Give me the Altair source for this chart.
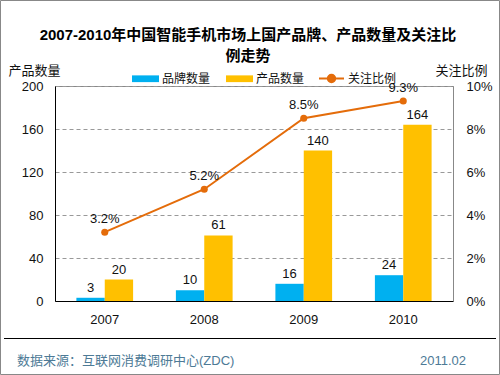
import altair as alt
import pandas as pd

# ---- data ----
years = ["2007", "2008", "2009", "2010"]
brand_counts = [3, 10, 16, 24]
product_counts = [20, 61, 140, 164]
attention = [0.032, 0.052, 0.085, 0.093]
series_names = ["品牌数量", "产品数量"]
line_name = "关注比例"
title_lines = ["2007-2010年中国智能手机市场上国产品牌、产品数量及关注比", "例走势"]
source_text = "数据来源：互联网消费调研中心(ZDC)"
date_text = "2011.02"

bar_colors = ["#00B0F0", "#FFC000"]
line_color = "#E46C0A"
FONT = "Liberation Sans, Arial, Noto Sans CJK SC"
FOOT = "#4D7A96"

bars_df = pd.DataFrame({
    "year": years * 2,
    "series": [series_names[0]] * 4 + [series_names[1]] * 4,
    "value": brand_counts + product_counts,
})
line_df = pd.DataFrame({"year": years, "ratio": attention, "name": [line_name] * 4})
one = pd.DataFrame({"k": [0]})

W, H = 398, 215
PL, PT = 55, 86

x_enc = alt.X(
    "year:N", sort=years,
    scale=alt.Scale(paddingInner=0.43, paddingOuter=0.215),
    axis=alt.Axis(title=None, labelAngle=0, ticks=False, domainColor="black",
                  labelFontSize=13, labelPadding=12, labelColor="#111"),
)
xoff = alt.XOffset("series:N", sort=series_names, scale=alt.Scale(paddingInner=0))
y_left = alt.Y(
    "value:Q", scale=alt.Scale(domain=[0, 200]),
    axis=alt.Axis(values=[0, 40, 80, 120, 160, 200], title="产品数量", titleAngle=0,
                  titleX=-21, titleY=-16, titleAlign="center", titleBaseline="middle",
                  titleFontWeight="normal", titleFontSize=13, titleColor="#111",
                  grid=True, gridDash=[4, 3], gridColor="#999", ticks=False,
                  labelPadding=12, domainColor="black", labelFontSize=13, labelColor="#111"),
)

bars = alt.Chart(bars_df).mark_bar().encode(
    x=x_enc,
    xOffset=xoff,
    y=y_left,
    color=alt.Color(
        "series:N", sort=series_names,
        scale=alt.Scale(domain=series_names, range=bar_colors),
        legend=alt.Legend(title=None, orient="none", legendX=77, legendY=-21,
                          direction="horizontal", symbolType="M-1,-0.25H1V0.25H-1Z",
                          symbolSize=729, symbolStrokeWidth=0, labelFontSize=12,
                          labelOffset=3, columnPadding=15, labelColor="#111", labelFont=FONT),
    ),
)
bar_text = alt.Chart(bars_df).mark_text(baseline="bottom", dy=-3, fontSize=13, color="#111").encode(
    x=x_enc, xOffset=xoff, y=alt.Y("value:Q"), text=alt.Text("value:Q"),
)
left_layer = alt.layer(bars, bar_text)

y_right = alt.Y(
    "ratio:Q", scale=alt.Scale(domain=[0, 0.1]),
    axis=alt.Axis(orient="right", format=".0%", values=[0, 0.02, 0.04, 0.06, 0.08, 0.1],
                  title="关注比例", titleAngle=0, titleX=8, titleY=-16, titleAlign="center",
                  titleBaseline="middle", titleFontWeight="normal", titleFontSize=13,
                  titleColor="#111", grid=False, ticks=False, labelPadding=13,
                  domainColor="#888", labelFontSize=13, labelColor="#111"),
)
line = alt.Chart(line_df).mark_line(strokeWidth=2).encode(
    x=x_enc, y=y_right,
    stroke=alt.Stroke(
        "name:N", scale=alt.Scale(domain=[line_name], range=[line_color]),
        legend=alt.Legend(title=None, orient="none", legendX=263, legendY=-21,
                          symbolType="M-1,0H1M0.3,0A0.3,0.3,0,1,1,-0.3,0A0.3,0.3,0,1,1,0.3,0Z",
                          symbolSize=625, symbolStrokeWidth=2, symbolFillColor=line_color,
                          labelFontSize=12, labelOffset=3, labelColor="#111", labelFont=FONT),
    ),
)
points = alt.Chart(line_df).mark_circle(size=50, color=line_color, opacity=1).encode(
    x=x_enc, y=alt.Y("ratio:Q"),
)
line_text = alt.Chart(line_df).mark_text(baseline="bottom", dy=-6, fontSize=13, color="#111").encode(
    x=x_enc, y=alt.Y("ratio:Q"), text=alt.Text("ratio:Q", format=".1%"),
)
right_layer = alt.layer(line, points, line_text)

# ---- annotations ----
t1 = alt.Chart(one).mark_text(fontSize=15, fontWeight="bold", color="#000", baseline="middle").encode(
    x=alt.value(193), y=alt.value(35 - PT), text=alt.value(title_lines[0]))
t2 = alt.Chart(one).mark_text(fontSize=15, fontWeight="bold", color="#000", baseline="middle").encode(
    x=alt.value(193), y=alt.value(56 - PT), text=alt.value(title_lines[1]))
foot_rule = alt.Chart(one).mark_rule(color="#000", strokeWidth=1).encode(
    x=alt.value(4 - PL), x2=alt.value(496 - PL), y=alt.value(338.5 - PT))
foot1 = alt.Chart(one).mark_text(fontSize=13, color=FOOT, align="left", baseline="middle").encode(
    x=alt.value(17 - PL), y=alt.value(361 - PT), text=alt.value(source_text))
foot2 = alt.Chart(one).mark_text(fontSize=13, color=FOOT, align="right", baseline="middle").encode(
    x=alt.value(466 - PL), y=alt.value(361 - PT), text=alt.value(date_text))
border = alt.Chart(one).mark_rect(fill=None, fillOpacity=0, stroke="#888", strokeWidth=1).encode(
    x=alt.value(0.5 - PL), x2=alt.value(499.5 - PL), y=alt.value(0.5 - PT), y2=alt.value(374.5 - PT))

chart = alt.layer(
    left_layer, right_layer, t1, t2, foot_rule, foot1, foot2, border
).resolve_scale(y="independent").properties(
    width=W, height=H,
    autosize=alt.AutoSizeParams(type="none"),
    padding={"left": PL, "top": PT, "right": 500 - PL - W, "bottom": 375 - PT - H},
    background="white",
).configure(font=FONT).configure_view(stroke="#888")

chart.save("out.html", embed_options={"renderer": "svg", "actions": False})
